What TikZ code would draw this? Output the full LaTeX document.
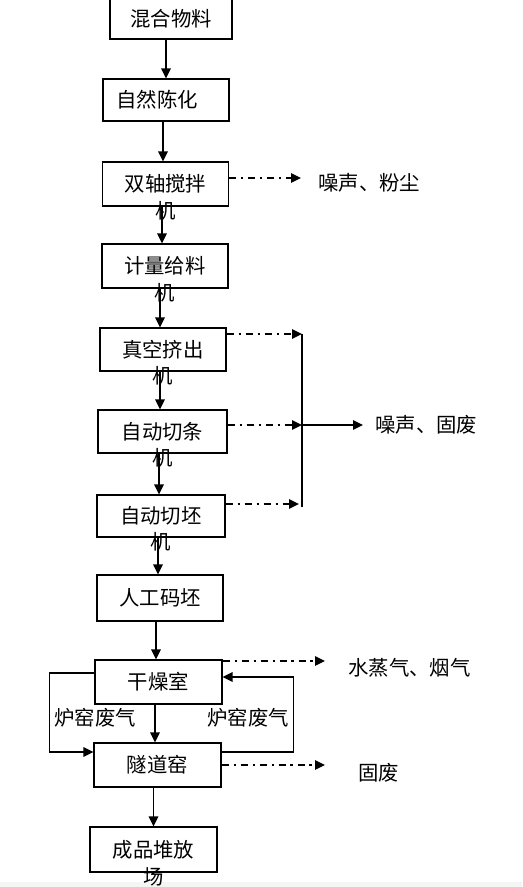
\documentclass[tikz,border=0pt]{standalone}
\usepackage{fontspec}
\setmainfont{Noto Sans CJK SC}
\usetikzlibrary{arrows.meta,positioning}

\begin{document}
\begin{tikzpicture}[x=0.02cm,y=-0.02cm,
  every node/.style={font=\fontsize{11.6}{13}\selectfont,inner sep=0pt},
  box/.style={draw,line width=0.7pt,minimum width=2.52cm,minimum height=0.88cm},
  tail/.style={yshift=-0.8mm},
  flow/.style={line width=0.8pt,-{Triangle[length=2mm,width=1.9mm]}},
  emit/.style={line width=0.8pt,dash pattern=on 4pt off 2.8pt on 1.2pt off 2.8pt,-{Triangle[length=2mm,width=1.9mm]}}]
\useasboundingbox (0,0) rectangle (522,887);
\fill[gray!8] (0,882) rectangle (522,887);

% main line
\node[box,minimum width=2.44cm,minimum height=0.8cm] (mix) at (171,19) {混合物料};
\node[box,minimum height=0.84cm] (age) at (166,100) {\hspace*{-0.35cm}自然陈化};
\node[box] (stir) at (165.5,184) {双轴搅拌};
\node[tail] (stirb) at (stir.south) {机};
\node[box] (feed) at (165,266) {计量给料};
\node[tail] (feedb) at (feed.south) {机};
\node[box,minimum height=0.86cm] (extr) at (163,349.5) {真空挤出};
\node[tail] (extrb) at (extr.south) {机};
\node[box,minimum width=2.58cm,minimum height=0.86cm] (cutS) at (162.5,431.5) {自动切条};
\node[tail] (cutSb) at (cutS.south) {机};
\node[box,minimum width=2.56cm,minimum height=0.84cm] (cutB) at (161,516) {自动切坯};
\node[tail] (cutBb) at (cutB.south) {机};
\node[box,minimum height=0.92cm] (stack) at (160,598) {人工码坯};
\node[box,minimum width=2.54cm] (dry) at (158.5,682) {干燥室};
\node[box,minimum width=2.54cm] (kiln) at (157.5,765) {隧道窑};
\node[box,minimum width=2.54cm,minimum height=0.9cm] (yard) at (153.5,849.5) {成品堆放};
\node[tail] (yardb) at (yard.south) {场};

\draw[flow] (age.north |- mix.south) -- (age.north);
\draw[flow] ([xshift=-0.05cm]stir.north |- age.south) -- ([xshift=-0.05cm]stir.north);
\draw[flow] ([xshift=-0.06cm]feed.north |- stir.south) -- ([xshift=-0.06cm]feed.north);
\draw[flow] ([xshift=-0.06cm]extr.north |- feed.south) -- ([xshift=-0.06cm]extr.north);
\draw[flow] ([xshift=-0.05cm]cutS.north |- extr.south) -- ([xshift=-0.05cm]cutS.north);
\draw[flow] ([xshift=-0.04cm]cutB.north |- cutS.south) -- ([xshift=-0.04cm]cutB.north);
\draw[flow] ([xshift=-0.04cm]stack.north |- cutB.south) -- ([xshift=-0.04cm]stack.north);
\draw[flow] ([xshift=-0.05cm]dry.north |- stack.south) -- ([xshift=-0.05cm]dry.north);
\draw[flow] ([xshift=-0.05cm]kiln.north |- dry.south) -- ([xshift=-0.05cm]kiln.north);
\draw[flow] (yard.north |- kiln.south) -- (yard.north);

% emissions
\coordinate (stirOut) at (301,178);
\draw[emit] (stir.east |- stirOut) -- (stirOut);
\node[anchor=west] (dust) at (318,183) {噪声、粉尘};

\coordinate (busTop) at (302,334);
\coordinate (busMid) at (302,425);
\coordinate (busLow) at (299,504);
\coordinate (busBot) at (302,507);
\draw[emit] (extr.east |- busTop) -- (busTop);
\draw[emit] (cutS.east |- busMid) -- (busMid);
\draw[emit] (cutB.east |- busLow) -- (busLow);
\draw[line width=0.7pt] (busTop) -- (busBot);
\node[anchor=west] (noise) at (375,425) {噪声、固废};
\draw[flow,shorten >=0.24cm] (busMid) -- (noise.west);

\coordinate (dryOut) at (325,661);
\draw[emit] (dry.east |- dryOut) -- (dryOut);
\node[anchor=west] (vapor) at (348,668) {水蒸气、烟气};
\coordinate (kilnOut) at (325,765);
\draw[emit] (kiln.east |- kilnOut) -- (kilnOut);
\node[anchor=west] (waste) at (358,773) {固废};

% flue gas loops
\draw[flow] ([yshift=1.8mm]dry.west) -- ++(-45,0) |- ([yshift=2.6mm]kiln.west);
\draw[flow] ([yshift=2.6mm]kiln.east) -- ++(72,0) |- ([yshift=1mm]dry.east);
\node (gasL) at (95,718) {炉窑废气};
\node (gasR) at (248,718) {炉窑废气};
\end{tikzpicture}
\end{document}
